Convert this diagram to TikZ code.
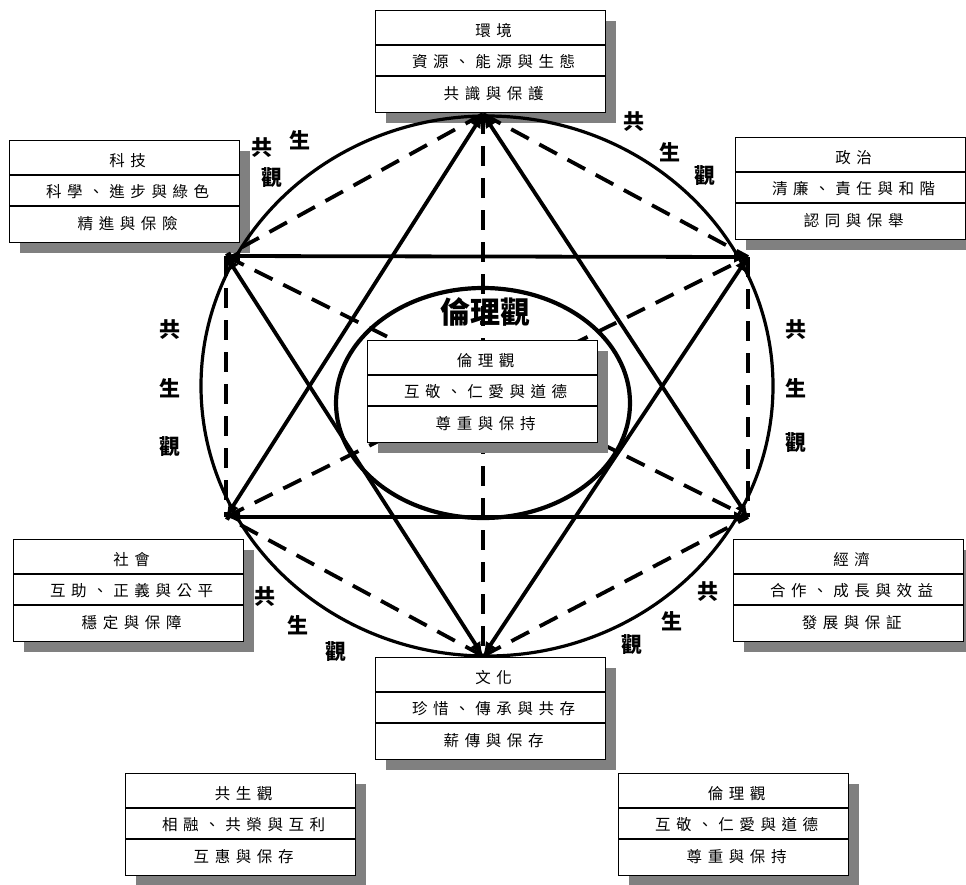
\documentclass[tikz,border=0pt]{standalone}
\usepackage{fontspec}
\newfontfamily\cjk[LetterSpace=36]{Noto Sans CJK TC}
\newfontfamily\cjkplain{Noto Sans CJK TC}
\usetikzlibrary{arrows.meta,shadows,calc}
\newcommand{\infobox}[6]{%
  \node[ibox] (#1) at (#2,#3) {};
  \draw[rowline] ([yshift=-35pt]#1.north west) -- ([yshift=-35pt]#1.north east);
  \draw[rowline] ([yshift=-66pt]#1.north west) -- ([yshift=-66pt]#1.north east);
  \node[itext] (#1-t) at ([yshift=-21pt,xshift=3pt]#1.north) {#4};
  \node[itext] (#1-a) at ([yshift=-52pt,xshift=3pt]#1.north) {#5};
  \node[itext] (#1-b) at ([yshift=-84pt,xshift=3pt]#1.north) {#6};
}
\begin{document}
\begin{tikzpicture}[x=1pt,y=-1pt,
  ibox/.style={draw=black, line width=1.3pt, fill=white, minimum width=230pt,
    minimum height=102pt, inner sep=0pt, anchor=north west,
    drop shadow={shadow xshift=10pt, shadow yshift=-10pt, fill=black!50, opacity=1}},
  rowline/.style={line width=1.3pt},
  itext/.style={font=\cjk\fontsize{15.5}{17}\selectfont, inner sep=0pt},
  solidarrow/.style={line width=3.8pt, {Latex[length=14pt,width=12pt]}-{Latex[length=14pt,width=12pt]}},
  dashline/.style={line width=3.8pt, dash pattern=on 20pt off 12pt},
  gs/.style={font=\cjkplain\bfseries\fontsize{21}{23}\selectfont, inner sep=0pt},
  biglabel/.style={font=\cjkplain\bfseries\fontsize{30}{32}\selectfont, inner sep=0pt},
]
\useasboundingbox (0,0) rectangle (966,884);

% outer boxes
\infobox{env}{375}{10}{環境}{資源、能源與生態}{共識與保護}
\infobox{tech}{9}{140}{科技}{科學、進步與綠色}{精進與保險}
\infobox{pol}{735}{137}{政治}{清廉、責任與和階}{認同與保舉}
\infobox{soc}{13}{539}{社會}{互助、正義與公平}{穩定與保障}
\infobox{eco}{733}{539}{經濟}{合作、成長與效益}{發展與保証}
\infobox{cul}{375}{657}{文化}{珍惜、傳承與共存}{薪傳與保存}
\infobox{sym}{125}{773}{共生觀}{相融、共榮與互利}{互惠與保存}
\infobox{eth2}{618}{773}{倫理觀}{互敬、仁愛與道德}{尊重與保持}

% circles
\draw[line width=3.2pt] (487,386) ellipse [x radius=286pt, y radius=270pt];
\draw[line width=4.2pt] (483,403) ellipse [x radius=147pt, y radius=115pt];

% vertices
\coordinate (T) at (483,114);
\coordinate (B) at (483,656);
\coordinate (UL) at (226,256);
\coordinate (UR) at (748,257);
\coordinate (LL) at (226,517);
\coordinate (LR) at (748,517);

% dashed lines
\draw[dashline] (T) -- (B);
\draw[dashline] (T) -- (UL);
\draw[dashline] (T) -- (UR);
\draw[dashline] (B) -- (LL);
\draw[dashline] (B) -- (LR);
\draw[dashline] (UL) -- (LL);
\draw[dashline] (UR) -- (LR);
\draw[dashline] (UL) -- (LR);
\draw[dashline] (LL) -- (UR);

% solid triangles
\draw[solidarrow] (T) -- (LL);
\draw[solidarrow] (T) -- (LR);
\draw[solidarrow] (LL) -- (LR);
\draw[solidarrow] (B) -- (UL);
\draw[solidarrow] (B) -- (UR);
\draw[solidarrow] (UL) -- (UR);

% center
\node[biglabel] (big) at (485,312) {倫理觀};
\infobox{eth}{367}{340}{倫理觀}{互敬、仁愛與道德}{尊重與保持}

% 共生觀 labels
\node[gs] (tl1) at (262,148) {共};
\node[gs] (tl2) at (300,140) {生};
\node[gs] (tl3) at (272,178) {觀};
\node[gs] (tr1) at (634,122) {共};
\node[gs] (tr2) at (670,152) {生};
\node[gs] (tr3) at (705,176) {觀};
\node[gs] (l1) at (170,330) {共};
\node[gs] (l2) at (170,388) {生};
\node[gs] (l3) at (170,447) {觀};
\node[gs] (r1) at (796,330) {共};
\node[gs] (r2) at (796,388) {生};
\node[gs] (r3) at (796,443) {觀};
\node[gs] (bl1) at (265,597) {共};
\node[gs] (bl2) at (298,625) {生};
\node[gs] (bl3) at (336,652) {觀};
\node[gs] (br1) at (708,592) {共};
\node[gs] (br2) at (672,621) {生};
\node[gs] (br3) at (632,645) {觀};
\end{tikzpicture}
\end{document}
